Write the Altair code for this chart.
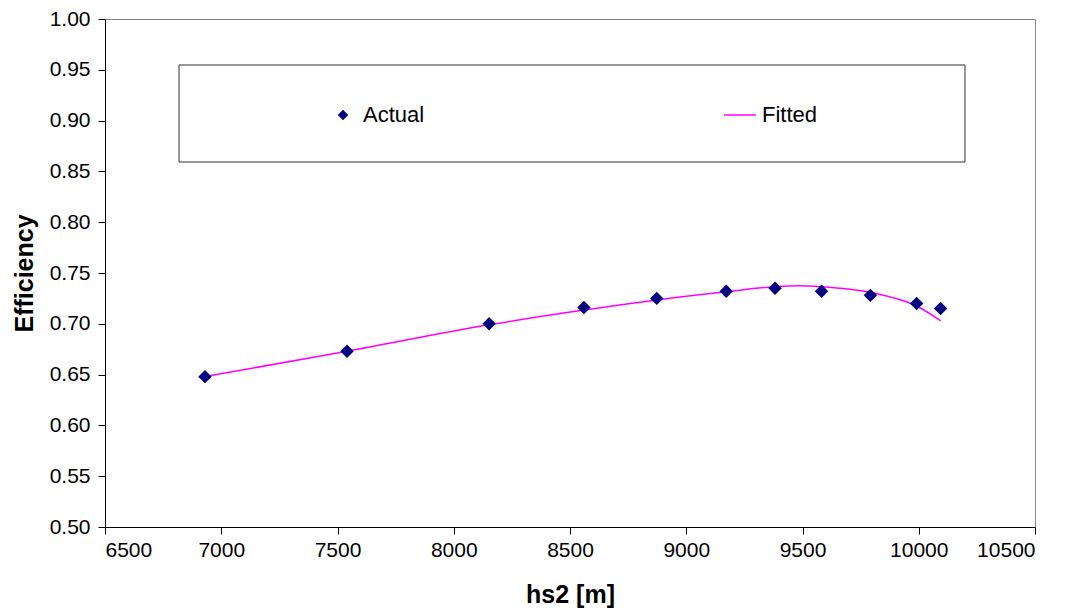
import altair as alt
import pandas as pd

# Actual data points
actual_x = [6930, 7541, 8152, 8560, 8873, 9172, 9382, 9582, 9792, 9991, 10094]
actual_y = [0.648, 0.673, 0.700, 0.716, 0.725, 0.732, 0.735, 0.732, 0.728, 0.720, 0.715]

# Fitted curve
fitted_x = [6930, 7541, 8152, 8560, 8873, 9172, 9382, 9480, 9582, 9792, 9991, 10094]
fitted_y = [0.648, 0.673, 0.699, 0.7135, 0.7235, 0.7315, 0.7365, 0.7375, 0.7365, 0.731, 0.7175, 0.703]

x_ticks = [6500, 7000, 7500, 8000, 8500, 9000, 9500, 10000, 10500]
y_ticks = [0.50, 0.55, 0.60, 0.65, 0.70, 0.75, 0.80, 0.85, 0.90, 0.95, 1.00]

df_actual = pd.DataFrame({"x": actual_x, "y": actual_y, "series": ["Actual"] * len(actual_x)})
df_fit = pd.DataFrame({"x": fitted_x, "y": fitted_y, "series": ["Fitted"] * len(fitted_x)})

FONT = "Liberation Sans"

xenc = alt.X("x:Q", scale=alt.Scale(domain=[6500, 10500], nice=False, zero=False),
             axis=alt.Axis(values=x_ticks, format="d", title="hs2 [m]"))
yenc = alt.Y("y:Q", scale=alt.Scale(domain=[0.5, 1.0], nice=False, zero=False),
             axis=alt.Axis(values=y_ticks, format=".2f", title="Efficiency"))

box = alt.Chart(pd.DataFrame({"a": [0]})).mark_rect(
    fill="white", stroke="#333333", strokeWidth=1
).encode(
    x=alt.value(74), x2=alt.value(860), y=alt.value(46), y2=alt.value(143)
)

line = alt.Chart(df_fit).mark_line(strokeWidth=1.5, interpolate="monotone").encode(
    x=xenc, y=yenc,
    stroke=alt.Stroke("series:N",
                      scale=alt.Scale(domain=["Fitted"], range=["#FF00FF"]),
                      legend=alt.Legend(orient="none", legendX=618, legendY=79, title=None,
                                        symbolType="stroke", symbolSize=1024,
                                        symbolStrokeWidth=1.5, labelOffset=5,
                                        labelFontSize=22, labelFont=FONT,
                                        labelColor="black", padding=0))
)

points = alt.Chart(df_actual).mark_point(shape="diamond", filled=True, size=180, opacity=1).encode(
    x=xenc, y=yenc,
    color=alt.Color("series:N",
                    scale=alt.Scale(domain=["Actual"], range=["#000080"]),
                    legend=alt.Legend(orient="none", legendX=227, legendY=85, title=None,
                                      symbolType="diamond", symbolSize=110,
                                      symbolOpacity=1, labelOffset=9,
                                      labelFontSize=22, labelFont=FONT,
                                      labelColor="black", padding=0))
)

chart = alt.layer(box, line, points).resolve_scale(color="independent").properties(
    width=930, height=508,
    autosize=alt.AutoSizeParams(type="none"),
    padding={"left": 97, "top": 11, "right": 25, "bottom": 86},
    background="white",
).configure_view(
    stroke="#888888", strokeWidth=1
).configure_axis(
    grid=False,
    domainColor="black", domainWidth=1,
    tickColor="black", tickSize=7, tickWidth=1,
    labelFont=FONT, labelFontSize=21, labelColor="black",
    titleFont=FONT, titleFontSize=25, titleFontWeight="bold", titleColor="black",
).configure_axisX(
    labelPadding=5, titlePadding=22
).configure_axisY(
    labelPadding=8, titlePadding=12
)

chart.save("out.html", embed_options={"renderer": "svg", "actions": False})
